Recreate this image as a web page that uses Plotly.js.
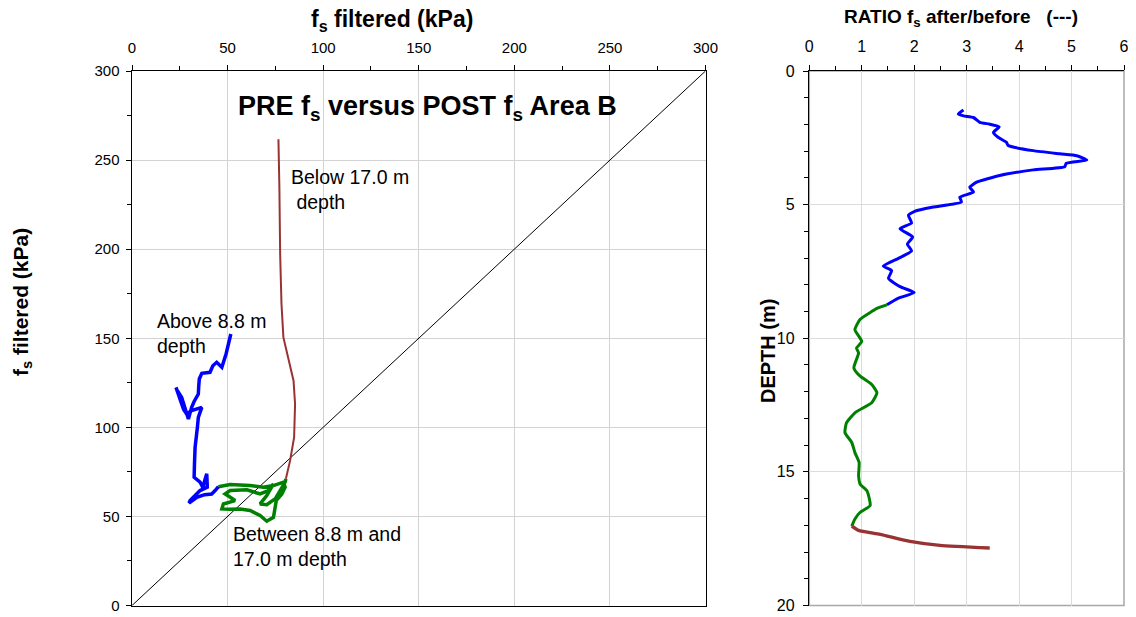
<!DOCTYPE html>
<html>
<head>
<meta charset="utf-8">
<script src="https://cdn.plot.ly/plotly-3.0.1.min.js"></script>
<style>html,body{margin:0;padding:0;background:#fff;}#chart{width:1136px;height:617px;}</style>
</head>
<body>
<div id="chart"></div>
<script>
// ---------- Left chart: PRE fs (x) vs POST fs (y), kPa ----------
const diagX = [0, 300];
const diagY = [0, 300];

const abovePreFs  = [51.7, 50.5, 49.2, 47.0, 44.3, 42.3, 40.8, 36.5, 35.2, 34.9, 34.7, 32.5, 31.2, 29.5, 27.7, 26.0, 23.5, 23.0, 23.8, 25.5, 27.0, 28.6, 31.2, 36.5, 34.7, 34.2, 33.5, 33.0, 32.7, 32.5, 35.6, 37.0, 39.1, 39.4, 35.6, 33.0, 30.4, 29.8, 33.9, 38.0, 41.7, 43.5, 45.2];
const abovePostFs = [152.4, 146.5, 141.2, 133.7, 136.5, 134.6, 130.9, 130.3, 127.1, 123.0, 118.7, 114.5, 111.2, 104.7, 111.2, 116.8, 121.0, 122.4, 119.0, 114.0, 110.0, 107.5, 109.4, 111.2, 105.6, 100.0, 94.0, 88.8, 80.0, 72.0, 69.2, 66.4, 73.9, 66.4, 64.5, 62.0, 58.9, 57.5, 60.7, 62.2, 62.6, 64.5, 66.7];

const betweenPreFs  = [45.2, 51.3, 61.8, 68.7, 74.0, 79.2, 80.1, 78.4, 75.5, 74.9, 74.0, 70.5, 67.0, 61.8, 56.5, 51.0, 47.0, 47.8, 53.9, 51.0, 48.7, 51.3, 60.1, 67.0, 71.4, 74.0, 72.0, 70.5, 67.0, 70.5, 75.0, 78.5, 80.1, 80.5];
const betweenPostFs = [66.7, 67.9, 67.3, 66.4, 67.3, 69.2, 66.4, 62.6, 59.0, 55.1, 49.5, 47.3, 50.5, 53.3, 54.2, 54.0, 54.2, 57.0, 58.9, 61.0, 62.6, 64.5, 64.9, 62.6, 64.5, 68.3, 64.0, 61.7, 57.0, 56.6, 60.0, 66.0, 69.2, 71.1];

const belowPreFs  = [80.5, 82.7, 84.8, 85.3, 84.5, 79.2, 78.2, 77.5, 77.1, 76.6];
const belowPostFs = [71.1, 81.3, 94.4, 113.1, 126.2, 150.5, 169.2, 197.3, 234.6, 261.7];

// ---------- Right chart: ratio fs after/before vs depth ----------
const aboveRatio = [2.94, 2.84, 2.94, 3.13, 3.25, 3.44, 3.62, 3.51, 3.60, 3.76, 3.79, 4.27, 4.78, 5.10, 5.29, 4.90, 4.87, 4.27, 3.63, 3.19, 3.06, 3.13, 2.87, 2.90, 2.36, 2.02, 1.89, 1.95, 1.73, 1.97, 1.87, 1.95, 1.70, 1.41, 1.57, 1.51, 1.73, 2.00, 1.70, 1.48];
const aboveDepth = [1.46, 1.61, 1.68, 1.74, 1.92, 1.99, 2.09, 2.30, 2.48, 2.67, 2.79, 2.98, 3.10, 3.17, 3.33, 3.45, 3.58, 3.70, 3.91, 4.16, 4.35, 4.53, 4.72, 4.90, 5.09, 5.24, 5.40, 5.69, 5.90, 6.21, 6.48, 6.73, 7.01, 7.30, 7.47, 7.76, 8.07, 8.29, 8.50, 8.75];

const betweenRatio = [1.48, 1.29, 1.19, 0.97, 0.87, 1.00, 0.90, 0.94, 0.85, 0.97, 1.19, 1.29, 1.19, 0.87, 0.71, 0.68, 0.81, 0.87, 0.95, 0.94, 0.97, 1.10, 1.16, 0.97, 0.87, 0.81];
const betweenDepth = [8.75, 8.88, 9.00, 9.29, 9.68, 10.12, 10.37, 10.55, 11.11, 11.42, 11.73, 12.04, 12.41, 12.79, 13.16, 13.53, 13.90, 14.28, 14.65, 15.15, 15.46, 15.71, 16.26, 16.51, 16.76, 17.03];

const belowRatio = [0.81, 0.94, 1.35, 1.92, 2.49, 3.44];
const belowDepth = [17.03, 17.19, 17.34, 17.60, 17.75, 17.85];

const fsTicks = [0, 50, 100, 150, 200, 250, 300];
const ratioTicks = [0, 1, 2, 3, 4, 5, 6];
const depthTicks = [0, 5, 10, 15, 20];

const BLUE = '#0000ff', GREEN = '#008000', BROWN = '#993333';
const FONT = 'Liberation Sans, Arial, sans-serif';

const traces = [
  {x: diagX, y: diagY, mode: 'lines', line: {color: '#000', width: 1}, xaxis: 'x', yaxis: 'y'},
  {x: belowPreFs, y: belowPostFs, mode: 'lines', line: {color: BROWN, width: 2}, xaxis: 'x', yaxis: 'y'},
  {x: betweenPreFs, y: betweenPostFs, mode: 'lines', line: {color: GREEN, width: 3.5}, xaxis: 'x', yaxis: 'y'},
  {x: abovePreFs, y: abovePostFs, mode: 'lines', line: {color: BLUE, width: 3.5}, xaxis: 'x', yaxis: 'y'},
  {x: aboveRatio, y: aboveDepth, mode: 'lines', line: {color: BLUE, width: 3, shape: 'spline', smoothing: 0.5}, xaxis: 'x2', yaxis: 'y2'},
  {x: betweenRatio, y: betweenDepth, mode: 'lines', line: {color: GREEN, width: 3, shape: 'spline', smoothing: 0.5}, xaxis: 'x2', yaxis: 'y2'},
  {x: belowRatio, y: belowDepth, mode: 'lines', line: {color: BROWN, width: 3.5, shape: 'spline', smoothing: 0.5}, xaxis: 'x2', yaxis: 'y2'}
];

const W = 1136, H = 617;
const px = v => v / W;
const py = v => 1 - v / H;

const yDom = [py(605.5), py(71)];

const axisCommon = {
  showline: true, linecolor: '#000', linewidth: 1.5,
  ticks: 'outside', ticklen: 5, tickwidth: 1, tickcolor: '#000',
  showgrid: true, gridcolor: '#d3d3d3', gridwidth: 1,
  zeroline: false, fixedrange: true,
  tickfont: {family: FONT, size: 15, color: '#000'}
};

const layout = {
  width: W, height: H,
  margin: {l: 0, r: 0, t: 0, b: 0},
  paper_bgcolor: '#fff', plot_bgcolor: '#fff',
  showlegend: false,
  font: {family: FONT, color: '#000'},
  xaxis: Object.assign({}, axisCommon, {
    domain: [px(132), px(705.5)], anchor: 'y', side: 'top', mirror: true,
    range: [0, 300], tickvals: fsTicks, ticktext: fsTicks.map(String),
    ticklabelstandoff: 6,
    minor: {dtick: 25, ticks: 'outside', ticklen: 4, tickcolor: '#000', showgrid: false}
  }),
  yaxis: Object.assign({}, axisCommon, {
    domain: yDom, anchor: 'x', mirror: true,
    range: [0, 300], tickvals: fsTicks, ticktext: fsTicks.map(String),
    ticklabelstandoff: 3,
    minor: {dtick: 25, ticks: 'outside', ticklen: 4, tickcolor: '#000', showgrid: false}
  }),
  xaxis2: Object.assign({}, axisCommon, {
    domain: [px(809.3), px(1124)], anchor: 'y2', side: 'top',
    range: [0, 6], tickvals: ratioTicks, ticktext: ratioTicks.map(String),
    gridcolor: '#dcdcdc', ticklabelstandoff: 6,
    tickfont: {family: FONT, size: 16, color: '#000'},
    minor: {dtick: 0.5, ticks: 'outside', ticklen: 4, tickcolor: '#000', showgrid: false}
  }),
  yaxis2: Object.assign({}, axisCommon, {
    domain: yDom, anchor: 'x2',
    range: [20, 0], tickvals: depthTicks, ticktext: depthTicks.map(String),
    gridcolor: '#dcdcdc', ticklabelstandoff: 5,
    tickfont: {family: FONT, size: 16, color: '#000'},
    minor: {dtick: 1, ticks: 'outside', ticklen: 4, tickcolor: '#000', showgrid: false}
  }),
  shapes: [
    {type: 'rect', xref: 'paper', yref: 'paper', x0: px(809.3), x1: px(1124), y0: yDom[0], y1: yDom[1],
     line: {color: '#a8a8a8', width: 1.5}, layer: 'below'}
  ],
  annotations: [
    {xref: 'paper', yref: 'paper', x: px(392), y: py(21), xanchor: 'center', yanchor: 'middle', showarrow: false,
     text: '<b>f<sub>s</sub> filtered (kPa)</b>', font: {family: FONT, size: 23, color: '#000'}},
    {xref: 'paper', yref: 'paper', x: px(961), y: py(18), xanchor: 'center', yanchor: 'middle', showarrow: false,
     text: '<b>RATIO f<sub>s</sub> after/before   (---)</b>', font: {family: FONT, size: 19, color: '#000'}},
    {xref: 'paper', yref: 'paper', x: px(22), y: py(302), xanchor: 'center', yanchor: 'middle', showarrow: false, textangle: -90,
     text: '<b>f<sub>s</sub> filtered (kPa)</b>', font: {family: FONT, size: 21, color: '#000'}},
    {xref: 'paper', yref: 'paper', x: px(768), y: py(351), xanchor: 'center', yanchor: 'middle', showarrow: false, textangle: -90,
     text: '<b>DEPTH (m)</b>', font: {family: FONT, size: 20, color: '#000'}},
    {xref: 'paper', yref: 'paper', x: px(427), y: py(108), xanchor: 'center', yanchor: 'middle', showarrow: false,
     text: '<b>PRE f<sub>s</sub> versus POST f<sub>s</sub> Area B</b>', font: {family: FONT, size: 27, color: '#000'}},
    {xref: 'paper', yref: 'paper', x: px(289), y: py(190), xanchor: 'left', yanchor: 'middle', align: 'left', showarrow: false,
     text: 'Below 17.0 m<br> depth', font: {family: FONT, size: 19.5, color: '#000'}},
    {xref: 'paper', yref: 'paper', x: px(155), y: py(333), xanchor: 'left', yanchor: 'middle', align: 'left', showarrow: false,
     text: 'Above 8.8 m<br>depth', font: {family: FONT, size: 19.5, color: '#000'}},
    {xref: 'paper', yref: 'paper', x: px(231), y: py(546), xanchor: 'left', yanchor: 'middle', align: 'left', showarrow: false,
     text: 'Between 8.8 m and<br>17.0 m depth', font: {family: FONT, size: 19.5, color: '#000'}}
  ]
};

Plotly.newPlot('chart', traces, layout, {displayModeBar: false, staticPlot: true});
</script>
</body>
</html>
